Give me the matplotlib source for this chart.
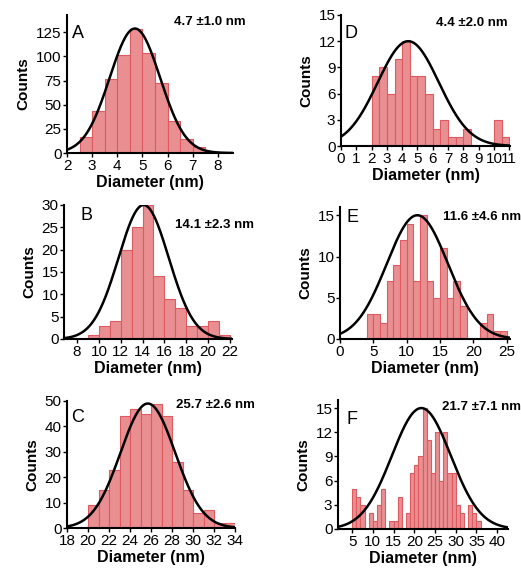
import numpy as np
import matplotlib
matplotlib.use("Agg")
import matplotlib.pyplot as plt

plt.rcParams["font.family"] = ["Liberation Sans", "DejaVu Sans"]

# Histogram counts (bin width in nm given by the bin list)
a_bins = [2.5, 3.0, 3.5, 4.0, 4.5, 5.0, 5.5, 6.0, 6.5, 7.0, 7.5]
a_counts = [17, 44, 77, 102, 128, 104, 73, 33, 15, 6, 1]

b_bins = [9, 10, 11, 12, 13, 14, 15, 16, 17, 18, 19, 20, 21]
b_counts = [1, 3, 4, 20, 25, 30, 14, 9, 7, 3, 3, 4, 1]

c_bins = [20, 21, 22, 23, 24, 25, 26, 27, 28, 29, 30, 31, 32, 33]
c_counts = [9, 15, 23, 44, 47, 45, 49, 44, 26, 15, 6, 7, 2, 2]

d_bins = [2.0, 2.5, 3.0, 3.5, 4.0, 4.5, 5.0, 5.5, 6.0, 6.5, 7.0, 7.5, 8.0,
          8.5, 9.0, 9.5, 10.0, 10.5]
d_counts = [8, 9, 6, 10, 12, 8, 8, 6, 2, 3, 1, 1, 2, 0, 0, 0, 3, 1]

e_bins = list(range(4, 25))
e_counts = [3, 3, 2, 7, 9, 12, 14, 7, 15, 7, 5, 11, 5, 7, 4, 0, 0, 2, 3, 1, 1]

f_bins = list(range(5, 36))
f_counts = [5, 4, 3, 0, 2, 1, 3, 5, 0, 1, 1, 4, 0, 2, 7, 8, 9, 15, 11, 7,
            12, 6, 12, 7, 7, 3, 2, 0, 3, 2, 1]

# Gaussian fits: mean, sd (from the labels), peak height
fits = {
    "A": (4.7, 1.0, 129),
    "B": (14.1, 2.3, 30),
    "C": (25.7, 2.6, 49),
    "D": (4.4, 2.0, 12),
    "E": (11.6, 4.6, 15),
    "F": (21.7, 7.1, 15),
}
labels = {
    "A": "4.7 \u00b11.0 nm",
    "B": "14.1 \u00b12.3 nm",
    "C": "25.7 \u00b12.6 nm",
    "D": "4.4 \u00b12.0 nm",
    "E": "11.6 \u00b14.6 nm",
    "F": "21.7 \u00b17.1 nm",
}

W, H = 521, 575
fig = plt.figure(figsize=(W / 100, H / 100), dpi=100)


def px_axes(left, top, right, bottom):
    return fig.add_axes([left / W, 1 - bottom / H, (right - left) / W, (bottom - top) / H])


panels = [
    # key, bins, counts, width, axes box (px), xlim, ylim, xticks, yticks, note pos, letter pos
    ("A", a_bins, a_counts, 0.5, (67, 15, 233, 153), (2, 8.6), (0, 143),
     range(2, 9), range(0, 126, 25), (246, 22), (72, 33)),
    ("D", d_bins, d_counts, 0.5, (341, 15, 510, 146), (0, 11.05), (0, 15),
     range(0, 12), range(0, 16, 3), (508, 23), (345, 33)),
    ("B", b_bins, b_counts, 1.0, (64, 205, 232, 339), (6.8, 22.2), (0, 30),
     range(8, 23, 2), range(0, 31, 5), (254, 225), (81, 216)),
    ("E", e_bins, e_counts, 1.0, (340, 207, 510, 339), (0, 25.5), (0, 16),
     range(0, 26, 5), range(0, 16, 5), (521, 217), (347, 217)),
    ("C", c_bins, c_counts, 1.0, (67, 401, 235, 528), (18, 34), (0, 50),
     range(18, 35, 2), range(0, 51, 10), (255, 405), (71, 417)),
    ("F", f_bins, f_counts, 1.0, (338, 400, 508, 529), (1.6, 42.6), (0, 16),
     range(5, 41, 5), range(0, 16, 3), (521, 407), (347, 419)),
]

for key, bins, counts, width, box, xlim, ylim, xt, yt, note, letter in panels:
    ax = px_axes(*box)
    ax.bar(bins, counts, width=width, align="edge", color="#e98e91",
           edgecolor="#dc5a60", linewidth=0.8, zorder=2)
    mu, sd, peak = fits[key]
    xs = np.linspace(xlim[0], xlim[1], 400)
    ax.plot(xs, peak * np.exp(-(xs - mu) ** 2 / (2 * sd ** 2)), color="black",
            lw=1.8, zorder=3)
    ax.set_xlim(*xlim)
    ax.set_ylim(*ylim)
    ax.set_xticks(list(xt))
    ax.set_yticks(list(yt))
    for s in ["top", "right"]:
        ax.spines[s].set_visible(False)
    for s in ["left", "bottom"]:
        ax.spines[s].set_linewidth(1.5)
        ax.spines[s].set_zorder(4)
    ax.tick_params(labelsize=11, length=3, width=1, pad=1)
    ax.set_xlabel("Diameter (nm)", fontsize=11.5, fontweight="bold", labelpad=2)
    ax.set_ylabel("Counts", fontsize=11, fontweight="bold", labelpad=4)
    fig.text(note[0] / W, 1 - note[1] / H, labels[key], fontsize=9.5,
             fontweight="bold", ha="right", va="center")
    fig.text(letter[0] / W, 1 - letter[1] / H, key, fontsize=13,
             ha="left", va="center")

fig.savefig("out.png", dpi=100)
